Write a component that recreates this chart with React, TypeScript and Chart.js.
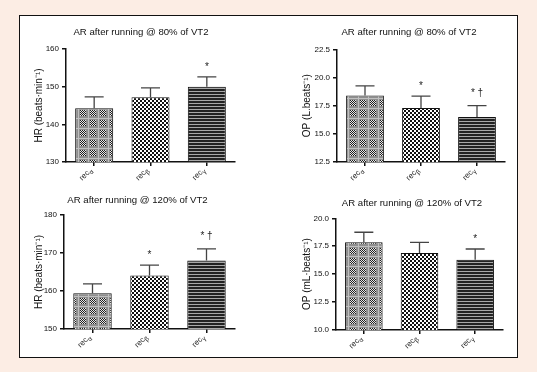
import React, { useEffect, useRef } from "react";
import { Chart, registerables } from "chart.js";

Chart.register(...registerables);

const FONT = 'Arial, "Liberation Sans", sans-serif';

const categories = ["α", "β", "γ"];

const hr80Means = [144.3, 147.2, 150.0];
const hr80Sd = [3.0, 2.5, 2.6];
const hr80Marks = ["", "", "*"];

const op80Means = [18.4, 17.3, 16.5];
const op80Sd = [0.85, 1.05, 1.0];
const op80Marks = ["", "*", "* †"];

const hr120Means = [159.4, 164.1, 168.0];
const hr120Sd = [2.5, 2.7, 3.1];
const hr120Marks = ["", "*", "* †"];

const op120Means = [17.85, 16.9, 16.3];
const op120Sd = [0.9, 0.95, 0.95];
const op120Marks = ["", "", "*"];

type Spec = {
  title: string;
  yLabel: string;
  means: number[];
  sd: number[];
  marks: string[];
  min: number;
  max: number;
  step: number;
  decimals: number;
  // layout
  left: number;
  top: number;
  width: number;
  height: number;
  padRight: number;
  padTop: number;
  titleX: number;
  titleY: number;
  yWidth: number;
  xHeight: number;
  yTitlePad: number;
};

const specs: Spec[] = [
  {
    title: "AR after running @ 80% of VT2",
    yLabel: "HR (beats·min⁻¹)",
    means: hr80Means, sd: hr80Sd, marks: hr80Marks,
    min: 130, max: 160, step: 10, decimals: 0,
    left: 20, top: 20, width: 242, height: 165, padRight: 27, padTop: 29,
    titleX: 141, titleY: 32, yWidth: 46, xHeight: 23, yTitlePad: 13.5,
  },
  {
    title: "AR after running @ 80% of VT2",
    yLabel: "OP (L.beats⁻¹)",
    means: op80Means, sd: op80Sd, marks: op80Marks,
    min: 12.5, max: 22.5, step: 2.5, decimals: 1,
    left: 290, top: 20, width: 238, height: 165, padRight: 23, padTop: 29.3,
    titleX: 409, titleY: 32, yWidth: 47, xHeight: 23, yTitlePad: 11,
  },
  {
    title: "AR after running @ 120% of VT2",
    yLabel: "HR (beats·min⁻¹)",
    means: hr120Means, sd: hr120Sd, marks: hr120Marks,
    min: 150, max: 180, step: 10, decimals: 0,
    left: 20, top: 188, width: 235, height: 164, padRight: 20, padTop: 27,
    titleX: 137.5, titleY: 200.7, yWidth: 44, xHeight: 23, yTitlePad: 13.3,
  },
  {
    title: "AR after running @ 120% of VT2",
    yLabel: "OP (mL·beats⁻¹)",
    means: op120Means, sd: op120Sd, marks: op120Marks,
    min: 10, max: 20, step: 2.5, decimals: 1,
    left: 290, top: 188, width: 244, height: 165, padRight: 31, padTop: 30.3,
    titleX: 412, titleY: 203.3, yWidth: 46, xHeight: 23, yTitlePad: 11.3,
  },
];

function makeTile(draw: (c: CanvasRenderingContext2D) => void, w: number, h: number) {
  const t = document.createElement("canvas");
  t.width = w;
  t.height = h;
  const c = t.getContext("2d")!;
  draw(c);
  return t;
}

function makePatterns(ctx: CanvasRenderingContext2D) {
  const alpha = makeTile((c) => {
    c.fillStyle = "#8e8e8e";
    c.fillRect(0, 0, 10, 10);
    for (let y = 0; y < 6; y++) {
      for (let x = 0; x < 6; x++) {
        c.fillStyle = (x + y) % 2 === 0 ? "#1e1e1e" : "#e8e8e8";
        c.fillRect(x, y, 1, 1);
      }
    }
    c.fillStyle = "#c0c0c0";
    c.fillRect(0, 8, 10, 1);
    c.fillRect(8, 0, 1, 10);
  }, 10, 10);
  const beta = makeTile((c) => {
    c.fillStyle = "#ffffff";
    c.fillRect(0, 0, 4, 4);
    c.fillStyle = "#111";
    c.fillRect(0, 0, 2, 2);
    c.fillRect(2, 2, 2, 2);
  }, 4, 4);
  const gamma = makeTile((c) => {
    c.fillStyle = "#222";
    c.fillRect(0, 0, 4, 3);
    c.fillStyle = "#a8a8a8";
    c.fillRect(0, 2, 4, 1);
  }, 4, 3);
  return [
    ctx.createPattern(alpha, "repeat")!,
    ctx.createPattern(beta, "repeat")!,
    ctx.createPattern(gamma, "repeat")!,
  ];
}

function drawXLabel(ctx: CanvasRenderingContext2D, x: number, y: number, main: string, sub: string) {
  ctx.save();
  ctx.translate(x, y);
  ctx.rotate(-Math.PI / 4);
  ctx.fillStyle = "#222";
  ctx.textBaseline = "middle";
  ctx.textAlign = "left";
  ctx.font = `8px ${FONT}`;
  const w1 = ctx.measureText(main).width;
  ctx.font = `6.5px ${FONT}`;
  const w2 = ctx.measureText(sub).width;
  const total = w1 + w2;
  ctx.font = `8px ${FONT}`;
  ctx.fillText(main, -total, 0);
  ctx.font = `6.5px ${FONT}`;
  ctx.fillText(sub, -total + w1, 2.5);
  ctx.restore();
}

function makeExtrasPlugin(spec: Spec) {
  return {
    id: "extras",
    afterDraw(chart: any) {
      const ctx: CanvasRenderingContext2D = chart.ctx;
      const yScale = chart.scales.y;
      const xScale = chart.scales.x;
      const meta = chart.getDatasetMeta(0);
      ctx.save();
      // panel title
      ctx.fillStyle = "#111";
      ctx.font = `9.6px ${FONT}`;
      ctx.textAlign = "center";
      ctx.textBaseline = "middle";
      ctx.fillText(spec.title, spec.titleX - spec.left, spec.titleY - spec.top);
      meta.data.forEach((bar: any, i: number) => {
        const x = bar.x;
        const yMean = yScale.getPixelForValue(spec.means[i]);
        const yTop = yScale.getPixelForValue(spec.means[i] + spec.sd[i]);
        ctx.strokeStyle = "#444";
        ctx.lineWidth = 1.3;
        ctx.beginPath();
        ctx.moveTo(x, yMean);
        ctx.lineTo(x, yTop);
        ctx.moveTo(x - 9.5, yTop);
        ctx.lineTo(x + 9.5, yTop);
        ctx.stroke();
        const m = spec.marks[i];
        if (m) {
          ctx.fillStyle = "#222";
          ctx.font = `10px ${FONT}`;
          ctx.textAlign = "center";
          ctx.textBaseline = "alphabetic";
          ctx.fillText(m, x, yTop - (m.length > 1 ? 10 : 7));
        }
      });
      categories.forEach((g, i) => {
        const x = xScale.getPixelForValue(i);
        drawXLabel(ctx, x - 3, xScale.top + 7, "rec", g);
      });
      ctx.restore();
    },
  };
}

function ChartPanel({ spec }: { spec: Spec }) {
  const ref = useRef<HTMLCanvasElement | null>(null);
  useEffect(() => {
    const canvas = ref.current!;
    const ctx = canvas.getContext("2d")!;
    const patterns = makePatterns(ctx);
    const chart = new Chart(ctx, {
      type: "bar",
      data: {
        labels: categories.map((g) => "rec" + g),
        datasets: [
          {
            data: spec.means,
            backgroundColor: patterns as any,
            borderColor: "#111",
            borderWidth: 1,
            barPercentage: 0.675,
            categoryPercentage: 1,
          },
        ],
      },
      options: {
        responsive: false,
        animation: false,
        layout: { padding: { left: 0, right: spec.padRight, top: spec.padTop, bottom: 0 } },
        plugins: {
          legend: { display: false },
          tooltip: { enabled: false },
          title: { display: false },
        },
        scales: {
          x: {
            grid: {
              display: true,
              drawOnChartArea: false,
              drawTicks: true,
              tickLength: 4,
              offset: false,
              color: "#111",
              lineWidth: 1.5,
            },
            border: { display: true, color: "#111", width: 1.5 },
            ticks: { display: false },
            afterFit: (s: any) => {
              s.height = spec.xHeight;
            },
          },
          y: {
            min: spec.min,
            max: spec.max,
            ticks: {
              stepSize: spec.step,
              color: "#111",
              padding: 3,
              font: { size: 8, family: FONT },
              callback: (v: any) => Number(v).toFixed(spec.decimals),
            },
            grid: {
              drawOnChartArea: false,
              drawTicks: true,
              tickLength: 4,
              color: "#111",
              lineWidth: 1.5,
            },
            border: { display: true, color: "#111", width: 1.5 },
            title: {
              display: true,
              text: spec.yLabel,
              color: "#111",
              font: { size: 10, family: FONT },
              padding: { top: spec.yTitlePad, bottom: 0 },
            },
            afterFit: (s: any) => {
              s.width = spec.yWidth;
            },
          },
        },
      },
      plugins: [makeExtrasPlugin(spec)],
    });
    return () => chart.destroy();
  }, [spec]);
  return (
    <canvas
      ref={ref}
      width={spec.width}
      height={spec.height}
      style={{ position: "absolute", left: spec.left, top: spec.top, width: spec.width, height: spec.height }}
    />
  );
}

export default function App() {
  return (
    <div
      style={{
        position: "fixed",
        left: 0,
        top: 0,
        width: 537,
        height: 372,
        background: "#fcede4",
        overflow: "hidden",
      }}
    >
      <div
        style={{
          position: "absolute",
          left: 19,
          top: 15,
          width: 499,
          height: 343,
          boxSizing: "border-box",
          border: "1px solid #111",
          background: "#ffffff",
        }}
      />
      {specs.map((s, i) => (
        <ChartPanel key={i} spec={s} />
      ))}
    </div>
  );
}
